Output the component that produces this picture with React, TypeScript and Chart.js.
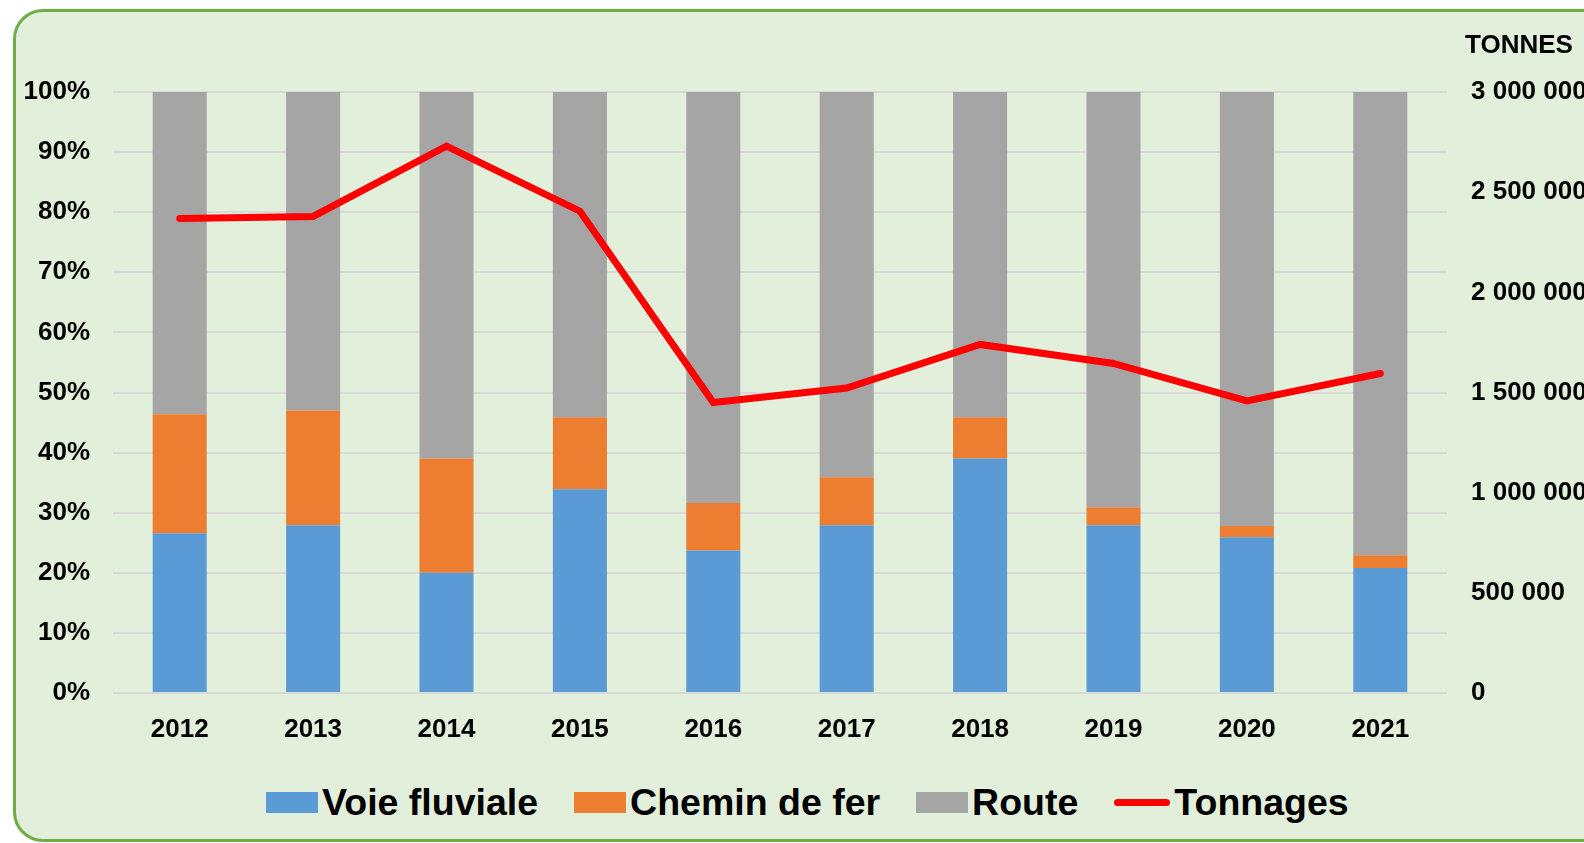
import React, { useEffect, useRef } from "react";
import { Chart, registerables } from "chart.js";

Chart.register(...registerables);

const years = ["2012", "2013", "2014", "2015", "2016", "2017", "2018", "2019", "2020", "2021"];
const voieFluviale = [26.6, 27.9, 20.0, 33.9, 23.7, 27.9, 39.0, 27.9, 25.9, 20.8];
const cheminDeFer = [19.8, 19.1, 19.0, 12.0, 7.9, 8.0, 6.9, 3.0, 1.9, 2.1];
const route = [53.6, 53.0, 61.0, 54.1, 68.4, 64.1, 54.1, 69.1, 72.2, 77.1];
const tonnages = [2369000, 2379000, 2730000, 2405000, 1450000, 1522000, 1740000, 1645000, 1458000, 1595000];

const seriesNames = ["Voie fluviale", "Chemin de fer", "Route", "Tonnages"];
const seriesColors = ["#5b9bd5", "#ed7d31", "#a5a5a5", "#ff0000"];

const FONT = '"Liberation Sans", Arial, sans-serif';
const CANVAS_W = 1650;
const CANVAS_H = 760;

const fmtSpace = (v: number) => String(v).replace(/\B(?=(\d{3})+(?!\d))/g, " ");

export default function App() {
  const ref = useRef<HTMLCanvasElement | null>(null);

  useEffect(() => {
    if (!ref.current) return;
    const tickFont = { family: FONT, size: 26, weight: "bold" as const };
    const chart = new Chart(ref.current, {
      type: "bar",
      data: {
        labels: years,
        datasets: [
          {
            type: "line",
            label: seriesNames[3],
            data: tonnages,
            yAxisID: "y1",
            borderColor: seriesColors[3],
            backgroundColor: seriesColors[3],
            borderWidth: 7,
            borderCapStyle: "round",
            borderJoinStyle: "miter",
            pointRadius: 0,
            tension: 0,
            order: 0,
          },
          {
            type: "bar",
            label: seriesNames[0],
            data: voieFluviale,
            backgroundColor: seriesColors[0],
            yAxisID: "y",
            order: 1,
          },
          {
            type: "bar",
            label: seriesNames[1],
            data: cheminDeFer,
            backgroundColor: seriesColors[1],
            yAxisID: "y",
            order: 1,
          },
          {
            type: "bar",
            label: seriesNames[2],
            data: route,
            backgroundColor: seriesColors[2],
            yAxisID: "y",
            order: 1,
          },
        ],
      },
      options: {
        responsive: false,
        animation: false,
        datasets: {
          bar: { barPercentage: 0.405, categoryPercentage: 1.0, borderWidth: 0 },
        },
        layout: { padding: { top: 92, left: 0, right: 0, bottom: 0 } },
        plugins: {
          legend: { display: false },
          tooltip: { enabled: false },
          title: { display: false },
        },
        scales: {
          x: {
            stacked: true,
            grid: { display: false },
            border: { display: false },
            ticks: { font: tickFont, color: "#000", padding: 13, maxRotation: 0 },
            afterFit: (s: any) => {
              s.height = CANVAS_H - 693;
            },
          },
          y: {
            stacked: true,
            position: "left",
            min: 0,
            max: 100,
            ticks: {
              stepSize: 10,
              font: tickFont,
              color: "#000",
              padding: 23,
              callback: (v: any) => `${v}%`,
            },
            grid: { color: "#d9d9d9", lineWidth: 2, drawTicks: false },
            border: { display: false },
            afterFit: (s: any) => {
              s.width = 113;
            },
          },
          y1: {
            position: "right",
            min: 0,
            max: 3000000,
            ticks: {
              stepSize: 500000,
              font: tickFont,
              color: "#000",
              padding: 24,
              callback: (v: any) => fmtSpace(Number(v)),
            },
            grid: { display: false, drawTicks: false },
            border: { display: false },
            afterFit: (s: any) => {
              s.width = CANVAS_W - 1447;
            },
          },
        },
      },
    });
    return () => chart.destroy();
  }, []);

  return (
    <div
      style={{
        position: "fixed",
        left: 0,
        top: 0,
        width: 1584,
        height: 843,
        overflow: "hidden",
        background: "#ffffff",
      }}
    >
      <div
        style={{
          position: "absolute",
          left: 13,
          top: 9,
          width: 1620,
          height: 827,
          border: "3px solid #70ad47",
          borderRadius: 30,
          background: "#e2efda",
        }}
      />
      <canvas
        ref={ref}
        width={CANVAS_W}
        height={CANVAS_H}
        style={{ position: "absolute", left: 0, top: 0, width: CANVAS_W, height: CANVAS_H }}
      />
      <div
        style={{
          position: "absolute",
          left: 1465,
          top: 31,
          fontFamily: FONT,
          fontWeight: "bold",
          fontSize: 26,
          lineHeight: "26px",
          color: "#000",
          whiteSpace: "nowrap",
        }}
      >
        TONNES
      </div>
      <div
        style={{
          position: "absolute",
          left: 266,
          top: 783,
          display: "flex",
          alignItems: "center",
          gap: 36,
          fontFamily: FONT,
          fontWeight: "bold",
          fontSize: 37.5,
          lineHeight: "38px",
          color: "#000",
          whiteSpace: "nowrap",
        }}
      >
        {seriesNames.map((name, i) => (
          <div key={name} style={{ display: "flex", alignItems: "center", gap: 4 }}>
            {i < 3 ? (
              <div style={{ width: 52, height: 21, background: seriesColors[i] }} />
            ) : (
              <div
                style={{
                  width: 56,
                  height: 7,
                  borderRadius: 4,
                  background: seriesColors[i],
                }}
              />
            )}
            <span>{name}</span>
          </div>
        ))}
      </div>
    </div>
  );
}
